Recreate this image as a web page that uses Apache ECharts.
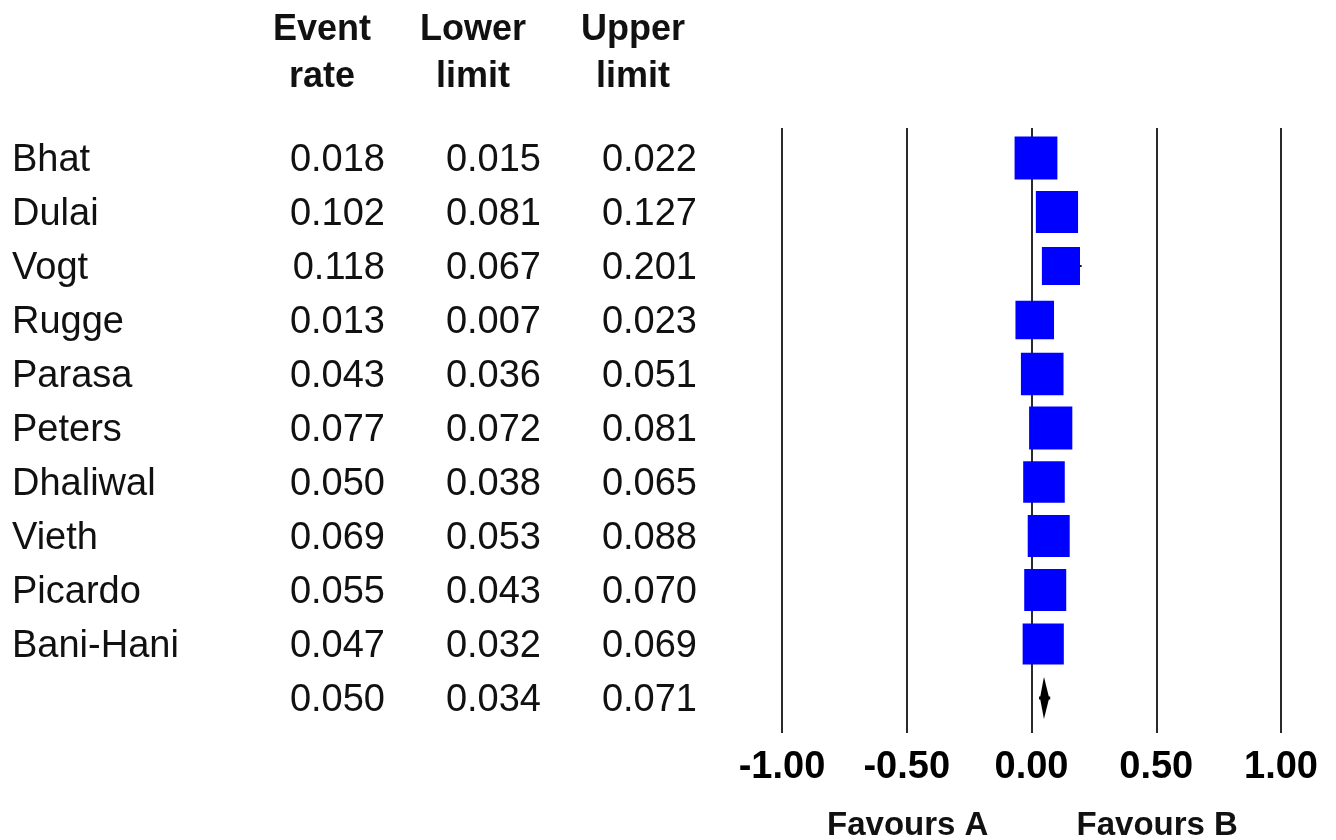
<!DOCTYPE html>
<html>
<head>
<meta charset="utf-8">
<title>Forest plot</title>
<script src="https://cdn.jsdelivr.net/npm/echarts@6/dist/echarts.min.js"></script>
<style>
  html, body { margin: 0; padding: 0; background: #fff; }
  #chart { width: 1336px; height: 840px; }
</style>
</head>
<body>
<div id="chart"></div>
<script>
// Study-level data
const studies    = ['Bhat', 'Dulai', 'Vogt', 'Rugge', 'Parasa', 'Peters', 'Dhaliwal', 'Vieth', 'Picardo', 'Bani-Hani'];
const eventRate  = [0.018, 0.102, 0.118, 0.013, 0.043, 0.077, 0.050, 0.069, 0.055, 0.047];
const lowerLimit = [0.015, 0.081, 0.067, 0.007, 0.036, 0.072, 0.038, 0.053, 0.043, 0.032];
const upperLimit = [0.022, 0.127, 0.201, 0.023, 0.051, 0.081, 0.065, 0.088, 0.070, 0.069];
// Relative study weights (%), shown through the square size
const weights    = [10.6, 10.3, 8.4, 8.6, 10.5, 10.8, 10.0, 10.2, 10.2, 9.8];
// Pooled estimate: rate, lower, upper
const pooled     = [0.050, 0.034, 0.071];
// Column headers and footer labels
const headers    = [['Event', 'rate'], ['Lower', 'limit'], ['Upper', 'limit']];
const favours    = [['Favours A', -0.5], ['Favours B', 0.5]];

const nRows = studies.length + 1;
const FONT = '"Liberation Sans", Arial, sans-serif';

const chart = echarts.init(document.getElementById('chart'), null, { renderer: 'canvas' });

// Table text columns: name (left aligned), three numeric columns (right aligned)
const colName = 12, colRight = [385, 541, 697];
const textShift = 3;

function tableItem(params, api) {
  const i = params.dataIndex;
  const y = api.coord([0, i])[1] + textShift;
  const vals = i < studies.length
    ? [eventRate[i], lowerLimit[i], upperLimit[i]]
    : pooled;
  const children = [];
  if (i < studies.length) {
    children.push({
      type: 'text',
      style: { x: colName, y: y, text: studies[i], font: '38px ' + FONT, fill: '#111', align: 'left', verticalAlign: 'middle' }
    });
  }
  vals.forEach((v, k) => {
    children.push({
      type: 'text',
      style: { x: colRight[k], y: y, text: v.toFixed(3), font: '38px ' + FONT, fill: '#111', align: 'right', verticalAlign: 'middle' }
    });
  });
  return { type: 'group', children: children };
}

function ciItem(params, api) {
  const i = params.dataIndex;
  const a = api.coord([lowerLimit[i], i]);
  const b = api.coord([upperLimit[i], i]);
  return {
    type: 'line',
    shape: { x1: a[0], y1: a[1], x2: b[0], y2: b[1] },
    style: { stroke: '#111', lineWidth: 2 }
  };
}

function squareItem(params, api) {
  const i = params.dataIndex;
  const c = api.coord([eventRate[i], i]);
  const s = 42 * Math.sqrt(weights[i] / 10.2);
  return {
    type: 'rect',
    shape: { x: c[0] - s / 2, y: c[1] - s / 2, width: s, height: s },
    style: { fill: '#0000ff' }
  };
}

function diamondItem(params, api) {
  const i = studies.length;
  const l = api.coord([pooled[1], i]);
  const m = api.coord([pooled[0], i]);
  const u = api.coord([pooled[2], i]);
  const h = 21;
  return {
    type: 'group',
    children: [
      {
        type: 'polygon',
        shape: { points: [[l[0], l[1]], [m[0], m[1] - h], [u[0], u[1]], [m[0], m[1] + h]] },
        style: { fill: '#000' }
      },
      {
        type: 'line',
        shape: { x1: l[0] - 1, y1: l[1], x2: u[0] + 1, y2: u[1] },
        style: { stroke: '#000', lineWidth: 3 }
      }
    ]
  };
}

const rowIdx = Array.from({ length: studies.length }, (_, i) => [0, i]);
const allRows = Array.from({ length: nRows }, (_, i) => [0, i]);

chart.setOption({
  animation: false,
  backgroundColor: '#fff',
  grid: { left: 782, right: 55, top: 128, bottom: 107 },
  xAxis: {
    type: 'value',
    min: -1, max: 1, interval: 0.5,
    axisLine: { show: false },
    axisTick: { show: false },
    splitLine: { show: true, lineStyle: { color: '#2a2a2a', width: 2 } },
    axisLabel: {
      formatter: v => v.toFixed(2),
      fontFamily: FONT, fontWeight: 'bold', fontSize: 38, color: '#000', margin: 16
    }
  },
  yAxis: {
    type: 'value', inverse: true,
    min: -0.5556, max: 10.648,
    show: false
  },
  series: [
    { type: 'custom', name: 'table', renderItem: tableItem, data: allRows, clip: false, silent: true },
    { type: 'custom', name: 'ci', renderItem: ciItem, data: rowIdx, silent: true },
    { type: 'custom', name: 'studies', renderItem: squareItem, data: rowIdx, silent: true },
    { type: 'custom', name: 'pooled', renderItem: diamondItem, data: [[0, studies.length]], silent: true }
  ]
});

// Headers above the numeric columns, and the direction labels below the axis
const headerCenters = [322, 473, 633];
const graphics = [];
headers.forEach((h, k) => {
  h.forEach((line, j) => {
    graphics.push({
      type: 'text', x: headerCenters[k], y: 30 + j * 47,
      style: { text: line, font: 'bold 36px ' + FONT, fill: '#111', align: 'center', verticalAlign: 'middle' }
    });
  });
});
favours.forEach(([label, xv]) => {
  const px = chart.convertToPixel({ gridIndex: 0 }, [xv, 0])[0];
  graphics.push({
    type: 'text', x: px + 1, y: 826,
    style: { text: label, font: 'bold 33px ' + FONT, fill: '#111', align: 'center', verticalAlign: 'middle' }
  });
});
chart.setOption({ graphic: graphics });
</script>
</body>
</html>
